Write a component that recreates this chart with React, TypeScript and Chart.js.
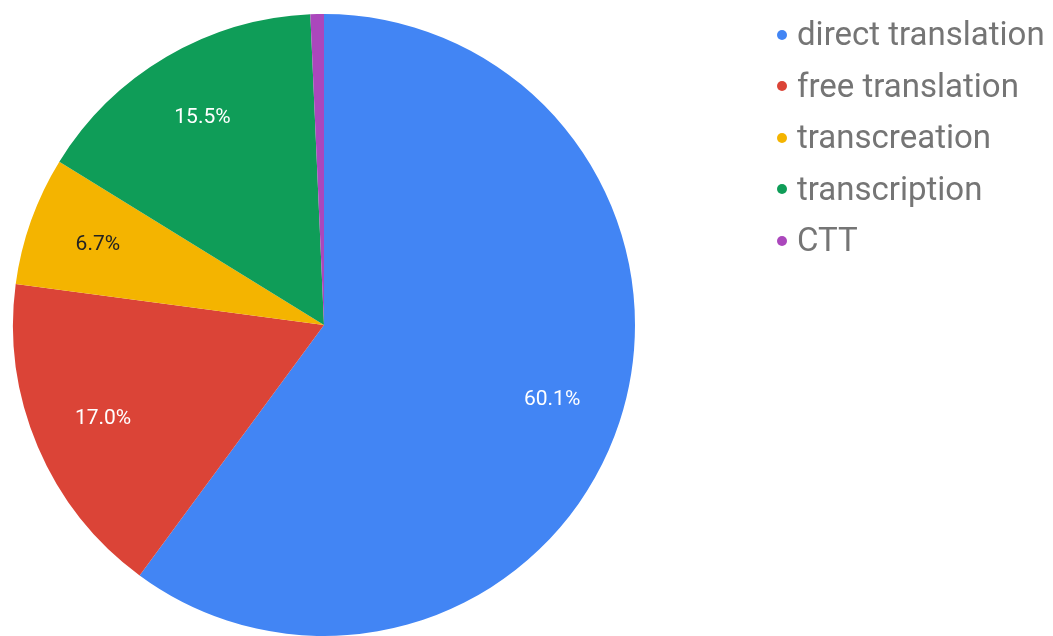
import React, { useEffect, useRef } from "react";
import { Chart, registerables } from "chart.js";

Chart.register(...registerables);

const categories = ["direct translation", "free translation", "transcreation", "transcription", "CTT"];
const shares = [60.1, 17.0, 6.7, 15.5, 0.7];
const sliceColors = ["#4285F4", "#DB4437", "#F4B400", "#0F9D58", "#AB47BC"];
const labelColors = ["#ffffff", "#ffffff", "#222222", "#ffffff", "#ffffff"];
const minLabelShare = 2;

const sliceLabels = {
  id: "sliceLabels",
  afterDatasetsDraw(chart: any) {
    const ctx = chart.ctx;
    const meta = chart.getDatasetMeta(0);
    ctx.save();
    ctx.font = "21px Roboto";
    ctx.textAlign = "center";
    ctx.textBaseline = "middle";
    meta.data.forEach((arc: any, i: number) => {
      if (shares[i] < minLabelShare) return;
      const p = arc.getProps(["x", "y", "startAngle", "endAngle", "outerRadius"], true);
      const mid = (p.startAngle + p.endAngle) / 2;
      const r = p.outerRadius * 0.772;
      ctx.fillStyle = labelColors[i];
      ctx.fillText(shares[i].toFixed(1) + "%", p.x + Math.cos(mid) * r, p.y + Math.sin(mid) * r);
    });
    ctx.restore();
  },
};

export default function App() {
  const canvasRef = useRef<HTMLCanvasElement | null>(null);

  useEffect(() => {
    if (!canvasRef.current) return;
    const chart = new Chart(canvasRef.current, {
      type: "pie",
      data: {
        labels: categories,
        datasets: [
          {
            data: shares,
            backgroundColor: sliceColors,
            borderWidth: 0,
          },
        ],
      },
      options: {
        responsive: false,
        animation: false,
        layout: { padding: { left: 13, top: 14, right: 418, bottom: 0 } },
        plugins: {
          legend: { display: false },
          tooltip: { enabled: false },
        },
      },
      plugins: [sliceLabels],
    });
    return () => chart.destroy();
  }, []);

  return (
    <div style={{ position: "absolute", left: 0, top: 0, width: 1053, height: 636, background: "#fff", overflow: "hidden" }}>
      <canvas ref={canvasRef} width={1053} height={636} style={{ position: "absolute", left: 0, top: 0 }} />
      {categories.map((c, i) => {
        const baseline = 45 + i * 51.5;
        return (
          <React.Fragment key={c}>
            <span
              style={{
                position: "absolute",
                left: 777,
                top: baseline - 10.5 - 5,
                width: 10,
                height: 10,
                borderRadius: 5,
                background: sliceColors[i],
              }}
            />
            <span
              style={{
                position: "absolute",
                left: 797,
                top: baseline - 27.8,
                fontFamily: "Roboto",
                fontSize: 33,
                lineHeight: "33px",
                color: "#757575",
                whiteSpace: "nowrap",
              }}
            >
              {c}
            </span>
          </React.Fragment>
        );
      })}
    </div>
  );
}
